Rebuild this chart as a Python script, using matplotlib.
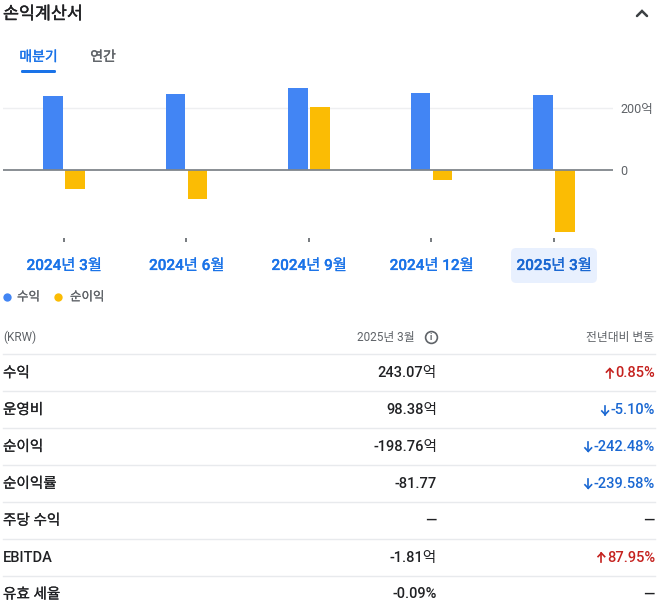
import matplotlib
matplotlib.use("Agg")
import matplotlib.pyplot as plt
from matplotlib.lines import Line2D
from matplotlib.patches import FancyBboxPatch
import matplotlib.transforms as mtransforms
import matplotlib.patheffects as pe
import numpy as np

plt.rcParams['font.family'] = ['Roboto', 'Noto Sans CJK KR', 'DejaVu Sans']

# ---- data ----
quarters = ['2024년 3월', '2024년 6월', '2024년 9월', '2024년 12월', '2025년 3월']
revenue = [239, 245, 265, 248, 243.07]
net_income = [-61, -93, 203, -30, -198.76]
series_names = ['수익', '순이익']
y_ticks = [0, 200]
y_tick_labels = ['0', '200억']

row_labels = ['수익', '운영비', '순이익', '순이익률', '주당 수익', 'EBITDA', '유효 세율']
row_values = ['243.07억', '98.38억', '-198.76억', '-81.77', '—', '-1.81억', '-0.09%']
row_changes = ['0.85%', '-5.10%', '-242.48%', '-239.58%', '—', '87.95%', '—']
row_dirs = ['up', 'down', 'down', 'down', None, 'up', None]

W, H = 660, 609
BLUE = '#4285f4'
YELLOW = '#fbbc04'
DARK = '#202124'
GRAY = '#5f6368'
LINK = '#1a73e8'
RED = '#c5221f'
DOWNBLUE = '#1967d2'


def fx(x):
    return x / W


def fy(y):
    return 1 - y / H


def thick(color, w=0.45):
    return [pe.withStroke(linewidth=w, foreground=color)]


fig = plt.figure(figsize=(W / 100, H / 100), dpi=100)
fig.patch.set_facecolor('white')

# ---- header ----
fig.text(fx(3), fy(14), '손익계산서', fontsize=12.5, color=DARK, va='center', ha='left',
         fontweight='medium', path_effects=thick(DARK, 0.3))
fig.add_artist(Line2D([fx(637), fx(642), fx(647)], [fy(16), fy(11), fy(16)],
                      transform=fig.transFigure, color='#3c4043', lw=1.8,
                      solid_capstyle='round', solid_joinstyle='miter'))

fig.text(fx(38.5), fy(57), '매분기', fontsize=10, color=LINK, va='center', ha='center',
         fontweight='medium', path_effects=thick(LINK, 0.25))
fig.text(fx(103), fy(57), '연간', fontsize=10, color=GRAY, va='center', ha='center',
         fontweight='medium', path_effects=thick(GRAY, 0.25))
fig.add_artist(FancyBboxPatch((fx(21), fy(73)), fx(35), 3 / H,
                              boxstyle='round,pad=0,rounding_size=0.002',
                              transform=fig.transFigure, facecolor=LINK,
                              edgecolor='none'))

# ---- chart ----
left, right, top, bottom = 3, 613, 80, 238
ax = fig.add_axes([fx(left), fy(bottom), (right - left) / W, (bottom - top) / H])
ax.set_facecolor('none')
x = np.arange(len(quarters))
bw = 0.16
off = 0.09
ax.bar(x - off, revenue, width=bw, color=BLUE, zorder=3)
ax.bar(x + off, net_income, width=bw, color=YELLOW, zorder=3)
ax.set_xlim(-0.498, 4.482)
ax.set_ylim(-218.4, 291.3)
for yv in y_ticks:
    if yv == 0:
        ax.axhline(yv, color='#80868b', lw=1.3, zorder=4)
    else:
        ax.axhline(yv, color='#eeeff1', lw=1.0, zorder=1)
for s in ax.spines.values():
    s.set_visible(False)
ax.set_xticks(x)
ax.set_xticklabels([''] * len(x))
ax.tick_params(axis='x', length=3, width=1.2, color='#5f6368', direction='out')
ax.yaxis.tick_right()
ax.set_yticks(y_ticks)
ax.set_yticklabels(y_tick_labels, fontsize=9, color=GRAY)
ax.tick_params(axis='y', length=0, pad=5)

# category labels
trans = mtransforms.blended_transform_factory(ax.transData, fig.transFigure)
box = FancyBboxPatch((fx(511), fy(283)), 86 / W, 35 / H,
                     boxstyle='round,pad=0,rounding_size=0.008',
                     mutation_aspect=W / H,
                     transform=fig.transFigure, facecolor='#e8f0fe', edgecolor='none')
fig.add_artist(box)
for i, q in enumerate(quarters):
    col = LINK if i < len(quarters) - 1 else '#1967d2'
    fig.text(x[i], fy(266), q, transform=trans, ha='center', va='center',
             fontsize=11, color=col, fontweight='medium', path_effects=thick(col, 0.15))

# legend
leg_items = [(7, BLUE, series_names[0], 17), (58, YELLOW, series_names[1], 70)]
for dx, col, name, tx in leg_items:
    fig.add_artist(Line2D([fx(dx)], [fy(297)], marker='o', markersize=6,
                          markerfacecolor=col, markeredgecolor='none',
                          transform=fig.transFigure, linestyle='none'))
    fig.text(fx(tx), fy(297), name, fontsize=9, color=GRAY, va='center', ha='left',
             path_effects=thick(GRAY, 0.12))

# ---- table ----
fig.text(fx(3), fy(337), '(KRW)', fontsize=8.5, color=GRAY, va='center', ha='left')
fig.text(fx(415), fy(337), '2025년 3월', fontsize=8.5, color=GRAY, va='center', ha='right')
fig.add_artist(Line2D([fx(431)], [fy(337)], marker='o', markersize=8.5,
                      markerfacecolor='none', markeredgecolor=GRAY, markeredgewidth=1.2,
                      transform=fig.transFigure, linestyle='none'))
fig.text(fx(431), fy(337.5), 'i', fontsize=6.5, color=GRAY, va='center', ha='center',
         fontweight='bold')
fig.text(fx(654), fy(337), '전년대비 변동', fontsize=8.5, color=GRAY, va='center', ha='right')

fig.canvas.draw()
renderer = fig.canvas.get_renderer()

row_h = 36.9
line0 = 354.3
for i in range(len(row_labels)):
    ly = line0 + i * row_h
    fig.add_artist(Line2D([fx(3), fx(655)], [fy(ly), fy(ly)], transform=fig.transFigure,
                          color='#e8eaed', lw=1.0))
    ty = ly + 18.8
    pe_lab = thick(DARK, 0.15) if row_labels[i] != 'EBITDA' else None
    fig.text(fx(3), fy(ty), row_labels[i], fontsize=10.5, color=DARK, va='center',
             ha='left', fontweight='medium', path_effects=pe_lab)
    fig.text(fx(437), fy(ty), row_values[i], fontsize=10.5, color=DARK, va='center',
             ha='right', fontweight='medium')
    d = row_dirs[i]
    col = RED if d == 'up' else (DOWNBLUE if d == 'down' else DARK)
    t = fig.text(fx(655), fy(ty), row_changes[i], fontsize=10.5, color=col, va='center',
                 ha='right', fontweight='medium')
    if d is not None:
        bb = t.get_window_extent(renderer)
        ax_r = bb.x0 - 2.0
        cx = ax_r - 3.5
        top_y = ty - 4.5
        bot_y = ty + 4.5
        if d == 'up':
            tip, tail = top_y, bot_y
            head = tip + 3.5
        else:
            tip, tail = bot_y, top_y
            head = tip - 3.5
        fig.add_artist(Line2D([fx(cx), fx(cx)], [fy(tail), fy(tip)],
                              transform=fig.transFigure, color=col, lw=1.2))
        fig.add_artist(Line2D([fx(cx - 3.3), fx(cx), fx(cx + 3.3)],
                              [fy(head), fy(tip), fy(head)],
                              transform=fig.transFigure, color=col, lw=1.2,
                              solid_joinstyle='miter'))

fig.savefig('out.png', dpi=100, facecolor='white')
